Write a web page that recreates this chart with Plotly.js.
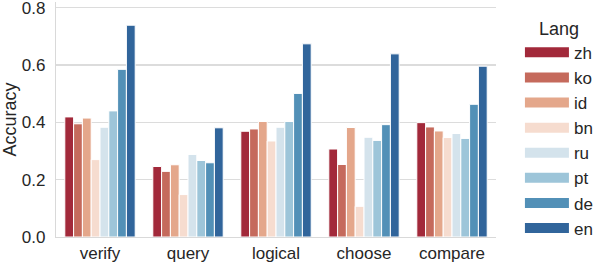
<!DOCTYPE html>
<html>
<head>
<meta charset="utf-8">
<script src="https://cdn.plot.ly/plotly-3.0.1.min.js"></script>
<style>html,body{margin:0;padding:0;background:#fff;}#chart{width:598px;height:264px;}</style>
</head>
<body>
<div id="chart"></div>
<script>
const categories = ["verify", "query", "logical", "choose", "compare"];
const langs = ["zh", "ko", "id", "bn", "ru", "pt", "de", "en"];
const zh = [0.419, 0.246, 0.369, 0.307, 0.399];
const ko = [0.395, 0.229, 0.377, 0.253, 0.384];
const id = [0.415, 0.252, 0.403, 0.382, 0.370];
const bn = [0.270, 0.148, 0.335, 0.107, 0.347];
const ru = [0.383, 0.288, 0.383, 0.348, 0.361];
const pt = [0.440, 0.267, 0.403, 0.337, 0.344];
const de = [0.585, 0.259, 0.501, 0.392, 0.463];
const en = [0.739, 0.381, 0.674, 0.639, 0.596];
const series = [zh, ko, id, bn, ru, pt, de, en];
const yTicks = [0, 0.2, 0.4, 0.6, 0.8];
const colors = ["#a2293a", "#c56a5c", "#e4a78b", "#f6dccf", "#d4e3ec", "#9dc5d9", "#5290b7", "#31659b"];

const traces = [];
langs.forEach((lang, i) => {
  traces.push({
    type: "bar", x: categories, y: series[i], name: lang,
    marker: {color: colors[i], line: {color: "#ffffff", width: 1}},
    showlegend: false, hoverinfo: "skip"
  });
});
langs.forEach((lang, i) => {
  traces.push({
    type: "scatter", mode: "lines", x: [null], y: [null], name: lang,
    line: {color: colors[i], width: 11}, legendgroup: lang, showlegend: true
  });
});

const font = {family: "Liberation Sans, Arial, sans-serif", size: 17, color: "#262626"};
const titleFont = {family: "Liberation Sans, Arial, sans-serif", size: 18, color: "#262626"};
const layout = {
  width: 598, height: 264,
  margin: {l: 56, r: 101, t: 1.6, b: 27},
  paper_bgcolor: "#ffffff", plot_bgcolor: "#ffffff",
  font: font,
  barmode: "group", bargap: 0.2, bargroupgap: 0,
  xaxis: {
    showgrid: false, showline: true, linecolor: "#d9d9d9", linewidth: 1.2,
    ticks: "", tickfont: font, zeroline: false
  },
  yaxis: {
    range: [0, 0.82], tickvals: yTicks, ticktext: yTicks.map(v => v.toFixed(1)),
    ticklabeloverflow: "allow",
    showgrid: true, gridcolor: "#dcdcdc", gridwidth: 1.2,
    showline: true, linecolor: "#d9d9d9", linewidth: 1.2,
    zeroline: false, ticks: "outside", ticklen: 6, tickcolor: "rgba(0,0,0,0)",
    tickfont: font,
    title: {text: "Accuracy", font: titleFont, standoff: 6}
  },
  showlegend: true,
  legend: {
    x: 1.052, xanchor: "left", y: 0.96, yanchor: "top",
    title: {text: "Lang", font: titleFont, side: "top center"},
    font: font, tracegroupgap: 0, itemwidth: 44,
    bgcolor: "rgba(0,0,0,0)"
  }
};
Plotly.newPlot("chart", traces, layout, {staticPlot: true, displayModeBar: false});
</script>
</body>
</html>
